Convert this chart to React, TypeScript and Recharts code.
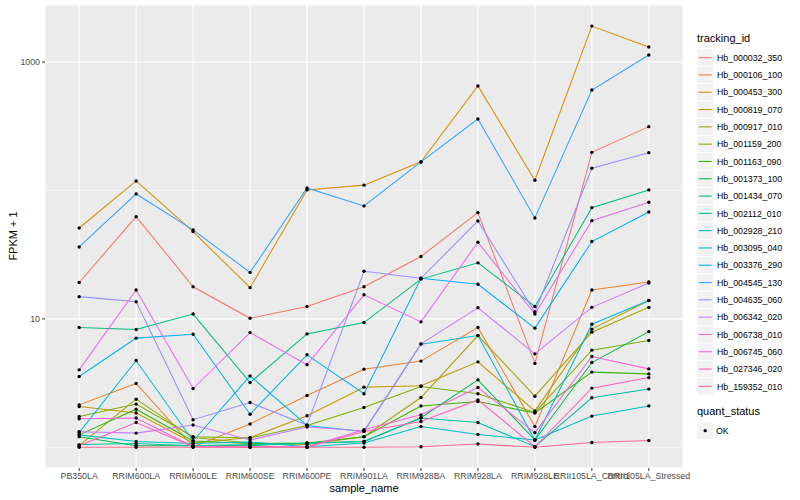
import { LineChart, Line, XAxis, YAxis, CartesianGrid } from 'recharts';

const SAMPLES = [
  'PB350LA', 'RRIM600LA', 'RRIM600LE', 'RRIM600SE', 'RRIM600PE', 'RRIM901LA',
  'RRIM928BA', 'RRIM928LA', 'RRIM928LE', 'RRII105LA_Control', 'RRII105LA_Stressed',
];

const TRACKING_IDS = [
  'Hb_000032_350', 'Hb_000106_100', 'Hb_000453_300', 'Hb_000819_070', 'Hb_000917_010',
  'Hb_001159_200', 'Hb_001163_090', 'Hb_001373_100', 'Hb_001434_070', 'Hb_002112_010',
  'Hb_002928_210', 'Hb_003095_040', 'Hb_003376_290', 'Hb_004545_130', 'Hb_004635_060',
  'Hb_006342_020', 'Hb_006738_010', 'Hb_006745_060', 'Hb_027346_020', 'Hb_159352_010',
];

// ggplot hue palette, 20 levels
const COLORS = [
  '#F8766D', '#EA8331', '#D89000', '#C09B00', '#A3A500',
  '#7CAE00', '#39B600', '#00BB4E', '#00BF7D', '#00C1A3',
  '#00BFC4', '#00BAE0', '#00B0F6', '#35A2FF', '#9590FF',
  '#C77CFF', '#E76BF3', '#FA62DB', '#FF62BC', '#FF6C91',
];

// FPKM + 1 per sample, same order as SAMPLES
const hb000032_350 = [19.2, 62.5, 17.8, 10.1, 12.5, 17.8, 30.6, 67.2, 4.5, 198, 314];
const hb000106_100 = [2.14, 3.14, 1.01, 1.52, 2.53, 4.06, 4.69, 8.56, 1.45, 16.8, 19.4];
const hb000453_300 = [51, 118.6, 47.8, 17.5, 101, 110, 167, 650, 120, 1905, 1309];
const hb000819_070 = [2.08, 1.85, 1.08, 1.19, 1.76, 2.94, 3.01, 4.63, 1.92, 8.32, 13.9];
const hb000917_010 = [1.03, 2.37, 1.19, 1.08, 1.05, 1.21, 2.44, 7.41, 2.5, 7.88, 12.3];
const hb001159_200 = [1.74, 2.17, 1.21, 1.18, 1.48, 2.04, 2.97, 2.61, 1.87, 5.71, 6.78];
const hb001163_090 = [1.25, 1.98, 1.12, 1.07, 1.08, 1.21, 2.1, 2.27, 1.85, 3.85, 3.73];
const hb001373_100 = [1.21, 1.03, 1.03, 1.03, 1.08, 1.11, 1.7, 3.35, 1.14, 4.57, 7.96];
const hb001434_070 = [8.56, 8.26, 10.9, 3.19, 7.64, 9.36, 20.4, 27.3, 12.5, 73.5, 101];
const hb002112_010 = [1.05, 1.07, 1.03, 1.05, 1.07, 1.11, 1.69, 1.56, 1.01, 2.43, 2.84];
const hb002928_210 = [1.25, 1.11, 1.07, 1.1, 1.01, 1.08, 1.45, 1.26, 1.14, 1.75, 2.1];
const hb003095_040 = [1.3, 4.74, 1.12, 3.6, 1.48, 1.33, 6.36, 7.41, 1.14, 9.09, 13.9];
const hb003376_290 = [3.56, 7.08, 7.6, 1.81, 5.25, 2.61, 20.7, 18.6, 8.47, 40, 68];
const hb004545_130 = [36.3, 93.9, 49.3, 23, 104.6, 75.8, 166.7, 360, 61.1, 605, 1134];
const hb004635_060 = [14.9, 13.6, 1.64, 2.23, 1.49, 23.5, 20.7, 57.9, 11.3, 149, 197];
const hb006342_020 = [1.32, 1.29, 1.49, 1.14, 1.44, 1.34, 6.39, 12.2, 5.34, 12.3, 19];
const hb006738_010 = [4.01, 16.8, 2.87, 7.82, 4.39, 15.4, 9.48, 39.5, 10.9, 58.2, 80.9];
const hb006745_060 = [1.67, 1.69, 1.01, 1.01, 1.01, 1.37, 1.79, 2.92, 1.3, 5.09, 4.08];
const hb027346_020 = [1.03, 1.56, 1.01, 1.0, 1.0, 1.33, 1.59, 2.34, 1.01, 2.89, 3.49];
const hb159352_010 = [1.0, 1.0, 1.0, 1.0, 1.0, 1.0, 1.01, 1.06, 1.0, 1.09, 1.13];

const SERIES_VALUES = [
  hb000032_350, hb000106_100, hb000453_300, hb000819_070, hb000917_010,
  hb001159_200, hb001163_090, hb001373_100, hb001434_070, hb002112_010,
  hb002928_210, hb003095_040, hb003376_290, hb004545_130, hb004635_060,
  hb006342_020, hb006738_010, hb006745_060, hb027346_020, hb159352_010,
];

const Y_TICKS = [10, 1000];
const Y_MINOR = [1, 100];

const rows = SAMPLES.map((name, i) => {
  const row: Record<string, number | string> = { idx: i, name };
  TRACKING_IDS.forEach((id, s) => {
    row[id] = SERIES_VALUES[s][i];
  });
  return row;
});

const FONT = '"Liberation Sans", Arial, Helvetica, sans-serif';

// legend drawn as plain svg, ggplot style keys (grey95 with white border)
function Legend() {
  const keyH = 17.3;
  const top = 49;
  const statusTop = top + TRACKING_IDS.length * keyH + 16;
  return (
    <svg
      width={110}
      height={460}
      style={{ position: 'absolute', left: 690, top: 0, fontFamily: FONT }}
    >
      <text x={7} y={42} fontSize={11} fill="#000">tracking_id</text>
      {TRACKING_IDS.map((id, i) => {
        const y = top + i * keyH;
        return (
          <g key={id}>
            <rect x={7} y={y} width={16.3} height={keyH} fill="#F2F2F2" stroke="#FFFFFF" strokeWidth={0.8} />
            <line x1={8.6} x2={21.7} y1={y + keyH / 2} y2={y + keyH / 2} stroke={COLORS[i]} strokeWidth={1.1} />
            <text x={27} y={y + keyH / 2 + 3.2} fontSize={8.8} fill="#000">{id}</text>
          </g>
        );
      })}
      <text x={7} y={statusTop + 4} fontSize={11} fill="#000">quant_status</text>
      <rect x={7} y={statusTop + 11} width={16.3} height={keyH} fill="#F2F2F2" stroke="#FFFFFF" strokeWidth={0.8} />
      <circle cx={15.2} cy={statusTop + 11 + keyH / 2} r={1.7} fill="#000" />
      <text x={26} y={statusTop + 11 + keyH / 2 + 3.2} fontSize={8.8} fill="#000">OK</text>
    </svg>
  );
}

export default function App() {
  return (
    <div style={{ position: 'absolute', left: 0, top: 0, width: 800, height: 500, background: '#fff' }}>
      <LineChart
        width={800}
        height={500}
        data={rows}
        margin={{ top: 5, right: 117, bottom: 0, left: 0 }}
        style={{ fontFamily: FONT }}
      >
        <CartesianGrid fill="#EBEBEB" stroke="#FFFFFF" strokeWidth={1.1} />
        <CartesianGrid
          stroke="#FFFFFF"
          strokeWidth={0.55}
          vertical={false}
          horizontalValues={Y_MINOR}
        />
        <XAxis
          dataKey="idx"
          type="number"
          domain={[-0.6, 10.6]}
          ticks={SAMPLES.map((_, i) => i)}
          tickFormatter={(i: number) => SAMPLES[i]}
          interval={0}
          axisLine={false}
          tickLine={{ stroke: '#333333' }}
          tickSize={3}
          tickMargin={2}
          height={32}
          tick={{ fontSize: 8.8, fill: '#4D4D4D' }}
        />
        <YAxis
          type="number"
          scale="log"
          domain={[0.69, 2780]}
          allowDataOverflow
          ticks={Y_TICKS}
          axisLine={false}
          tickLine={{ stroke: '#333333' }}
          tickSize={3}
          tickMargin={2}
          width={45}
          tick={{ fontSize: 8.8, fill: '#4D4D4D' }}
        />
        {TRACKING_IDS.map((id, i) => (
          <Line
            key={id}
            dataKey={id}
            stroke={COLORS[i]}
            strokeWidth={1.05}
            dot={false}
            activeDot={false}
            isAnimationActive={false}
          />
        ))}
        {TRACKING_IDS.map((id) => (
          <Line
            key={`pts-${id}`}
            dataKey={id}
            stroke="none"
            dot={{ r: 1.7, fill: '#000', stroke: 'none' }}
            activeDot={false}
            legendType="none"
            isAnimationActive={false}
          />
        ))}
      </LineChart>
      <div
        style={{
          position: 'absolute',
          left: 364,
          top: 482,
          transform: 'translateX(-50%)',
          fontFamily: FONT,
          fontSize: 11,
          color: '#000',
          whiteSpace: 'nowrap',
        }}
      >
        sample_name
      </div>
      <div
        style={{
          position: 'absolute',
          left: 13,
          top: 236,
          transform: 'translate(-50%, -50%) rotate(-90deg)',
          fontFamily: FONT,
          fontSize: 11,
          color: '#000',
          whiteSpace: 'nowrap',
        }}
      >
        FPKM + 1
      </div>
      <Legend />
    </div>
  );
}
